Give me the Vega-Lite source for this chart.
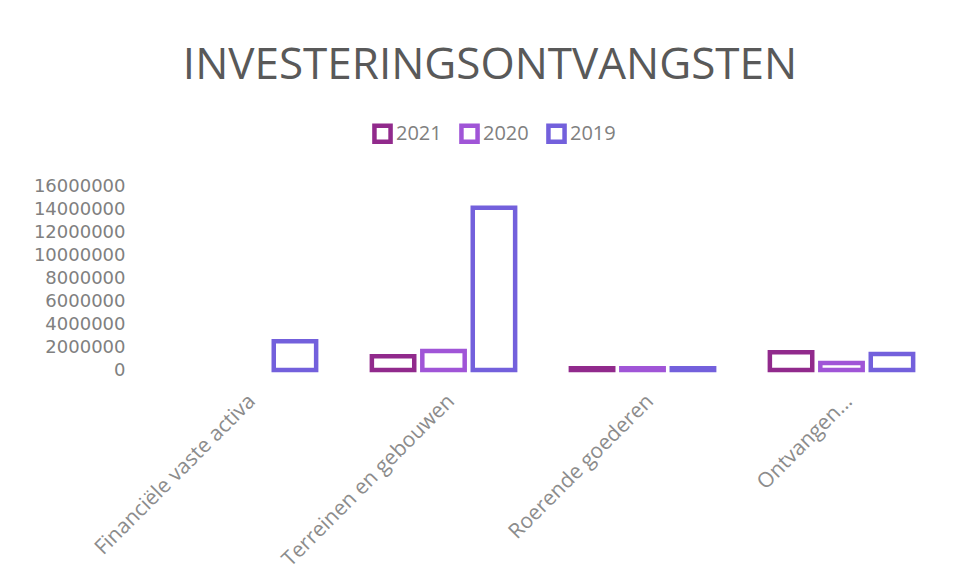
{
  "$schema": "https://vega.github.io/schema/vega-lite/v6.json",
  "width": 796,
  "height": 184,
  "autosize": "none",
  "padding": {"left": 145, "top": 186, "right": 18, "bottom": 213},
  "background": "white",
  "title": {
    "text": "INVESTERINGSONTVANGSTEN",
    "font": "Open Sans",
    "fontSize": 44,
    "fontWeight": "normal",
    "color": "#595959",
    "anchor": "middle",
    "dx": -53,
    "offset": 35
  },
  "data": {
    "values": [
      {"categorie": "Financiële vaste activa", "jaar": "2019", "waarde": 2500000},
      {"categorie": "Terreinen en gebouwen", "jaar": "2021", "waarde": 1200000},
      {"categorie": "Terreinen en gebouwen", "jaar": "2020", "waarde": 1650000},
      {"categorie": "Terreinen en gebouwen", "jaar": "2019", "waarde": 14100000},
      {"categorie": "Roerende goederen", "jaar": "2021", "waarde": 150000},
      {"categorie": "Roerende goederen", "jaar": "2020", "waarde": 150000},
      {"categorie": "Roerende goederen", "jaar": "2019", "waarde": 150000},
      {"categorie": "Ontvangen...", "jaar": "2021", "waarde": 1550000},
      {"categorie": "Ontvangen...", "jaar": "2020", "waarde": 600000},
      {"categorie": "Ontvangen...", "jaar": "2019", "waarde": 1400000}
    ]
  },
  "mark": {"type": "bar", "fill": "white", "strokeWidth": 4.5},
  "encoding": {
    "x": {
      "field": "categorie",
      "type": "nominal",
      "sort": ["Financiële vaste activa", "Terreinen en gebouwen", "Roerende goederen", "Ontvangen..."],
      "scale": {"paddingInner": 0.28, "paddingOuter": 0.14},
      "axis": {
        "title": null,
        "labelAngle": -45,
        "labelFont": "Open Sans",
        "labelFontSize": 21,
        "labelColor": "#8c8c8c",
        "domain": false,
        "ticks": false,
        "labelPadding": 20,
        "labelLimit": 400
      }
    },
    "xOffset": {
      "field": "jaar",
      "type": "nominal",
      "sort": ["2021", "2020", "2019"],
      "scale": {"paddingInner": 0.16, "paddingOuter": 0}
    },
    "y": {
      "field": "waarde",
      "type": "quantitative",
      "scale": {"domain": [0, 16000000]},
      "axis": {
        "title": null,
        "values": [0, 2000000, 4000000, 6000000, 8000000, 10000000, 12000000, 14000000, 16000000],
        "format": "d",
        "grid": false,
        "domain": false,
        "ticks": false,
        "labelFont": "DejaVu Sans",
        "labelFontSize": 18,
        "labelColor": "#808080",
        "labelPadding": 20
      }
    },
    "stroke": {
      "field": "jaar",
      "type": "nominal",
      "sort": ["2021", "2020", "2019"],
      "scale": {"domain": ["2021", "2020", "2019"], "range": ["#912A8C", "#A055D7", "#7360DC"]},
      "legend": {
        "title": null,
        "orient": "none",
        "direction": "horizontal",
        "legendX": 227,
        "legendY": -63,
        "symbolType": "square",
        "symbolSize": 260,
        "symbolStrokeWidth": 4.5,
        "symbolFillColor": "white",
        "labelFont": "Open Sans",
        "labelFontSize": 20,
        "labelColor": "#808080",
        "labelOffset": 3,
        "columnPadding": 10
      }
    }
  },
  "config": {"view": {"stroke": null}}
}
